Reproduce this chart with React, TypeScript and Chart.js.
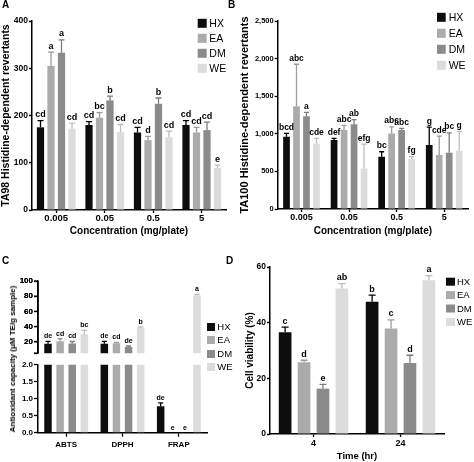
import React, { useEffect, useRef } from 'react';
import { Chart, registerables } from 'chart.js';

Chart.register(...registerables);

const FONT = "'Liberation Sans', Arial, Helvetica, sans-serif";
Chart.defaults.font.family = FONT;
Chart.defaults.color = '#000';

// ---------- shared series ----------
const seriesNames = ['HX', 'EA', 'DM', 'WE'];
const barColors = ['#0d0d0d', '#ababab', '#8b8b8b', '#dcdcdc'];
const errColors = ['#000000', '#9c9c9c', '#7c7c7c', '#bdbdbd'];

// ---------- Panel A: TA98 ----------
const concLabels = ['0.005', '0.05', '0.5', '5'];
const aHX = [175, 180, 164, 180];
const aEA = [305, 195, 148, 164];
const aDM = [333, 232, 225, 169];
const aWE = [172, 165, 154, 89];
const aHXErr = [14, 7, 11, 9];
const aEAErr = [29, 11, 8, 11];
const aDMErr = [27, 9, 12, 17];
const aWEErr = [12, 16, 13, 6];
const aHXSig = ['cd', 'cd', 'cd', 'cd'];
const aEASig = ['a', 'bc', 'd', 'cd'];
const aDMSig = ['a', 'b', 'b', 'cd'];
const aWESig = ['cd', 'cd', 'cd', 'e'];

// ---------- Panel B: TA100 ----------
const bHX = [960, 916, 695, 850];
const bEA = [1367, 1049, 1004, 717];
const bDM = [1235, 1128, 1049, 748];
const bWE = [872, 540, 664, 774];
const bHXErr = [45, 22, 66, 240];
const bEAErr = [558, 62, 89, 252];
const bDMErr = [50, 60, 22, 265];
const bWEErr = [66, 323, 31, 258];
const bHXSig = ['bcd', 'def', 'bc', 'g'];
const bEASig = ['abc', 'abc', 'abc', 'cde'];
const bDMSig = ['a', 'ab', 'abc', 'bc'];
const bWESig = ['cde', 'efg', 'fg', 'g'];

// ---------- Panel C: antioxidant capacity ----------
const assayLabels = ['ABTS', 'DPPH', 'FRAP'];
const cHX = [17.5, 17.4, 0.78];
const cEA = [20.8, 18.2, 0];
const cDM = [17.6, 13.0, 0];
const cWE = [30.0, 38.5, 81.3];
const cHXErr = [3, 3.2, 0.1];
const cEAErr = [3.2, 1, 0];
const cDMErr = [2.8, 1.5, 0];
const cWEErr = [5, 1, 1.2];
const cHXSig = ['de', 'de', 'de'];
const cEASig = ['cd', 'cd', 'e'];
const cDMSig = ['cd', 'de', 'e'];
const cWESig = ['bc', 'b', 'a'];
const cUpperTicks = [5, 20, 40, 60, 80, 100];
const cUpperLabelled = [20, 40, 60, 80, 100];
const cLowerTicks = [0, 0.5, 1, 1.5, 2];

// ---------- Panel D: cell viability ----------
const timeLabels = ['4', '24'];
const dHX = [36.6, 47.5];
const dEA = [25.8, 37.9];
const dDM = [16.3, 25.5];
const dWE = [52.3, 55.2];
const dHXErr = [1.8, 2.4];
const dEAErr = [0.7, 3.1];
const dDMErr = [1.5, 2.8];
const dWEErr = [1.7, 1.7];
const dHXSig = ['c', 'b'];
const dEASig = ['d', 'c'];
const dDMSig = ['e', 'd'];
const dWESig = ['ab', 'a'];

// ---------- plugins ----------
const annotPlugin = {
  id: 'annot',
  afterDatasetsDraw(chart: any, _a: any, opts: any) {
    const ctx = chart.ctx;
    const ys = chart.scales.y;
    const range = opts.range || [-1e12, 1e12];
    ctx.save();
    chart.data.datasets.forEach((ds: any, di: number) => {
      const meta = chart.getDatasetMeta(di);
      meta.data.forEach((bar: any, i: number) => {
        const v = ds.data[i];
        const e = ds.errPlus ? ds.errPlus[i] : 0;
        const top = v + e;
        if (top < range[0] || top > range[1]) return;
        const x = bar.x;
        const yTop = ys.getPixelForValue(top);
        if (e > 0) {
          const yv = ys.getPixelForValue(Math.max(v, ys.min));
          ctx.strokeStyle = ds.errColor;
          ctx.lineWidth = opts.lw;
          ctx.beginPath();
          ctx.moveTo(x, yv);
          ctx.lineTo(x, yTop);
          ctx.moveTo(x - opts.cap / 2, yTop);
          ctx.lineTo(x + opts.cap / 2, yTop);
          ctx.stroke();
        }
        if (ds.sig && ds.sig[i]) {
          ctx.fillStyle = '#000';
          ctx.font = `bold ${opts.font}px ${FONT}`;
          ctx.textAlign = 'center';
          ctx.textBaseline = 'bottom';
          ctx.fillText(ds.sig[i], x, yTop - opts.gap);
        }
      });
    });
    ctx.restore();
  },
};

const boxLegend = {
  id: 'boxLegend',
  afterDraw(chart: any, _a: any, o: any) {
    if (!o || !o.show) return;
    const ctx = chart.ctx;
    ctx.save();
    chart.data.datasets.forEach((ds: any, i: number) => {
      const cy = o.y + i * o.dy;
      ctx.fillStyle = ds.backgroundColor;
      ctx.fillRect(o.x, cy - o.h / 2, o.w, o.h);
      ctx.fillStyle = '#000';
      ctx.font = `${o.font}px ${FONT}`;
      ctx.textAlign = 'left';
      ctx.textBaseline = 'middle';
      ctx.fillText(ds.label, o.tx, cy + 0.5);
    });
    ctx.restore();
  },
};

// draws the y axis of the upper broken-axis segment from the chart's own y scale
const segAxis = {
  id: 'segAxis',
  afterDraw(chart: any, _a: any, o: any) {
    if (!o || !o.show) return;
    const ctx = chart.ctx;
    const ys = chart.scales.y;
    const area = chart.chartArea;
    const x0 = area.left;
    ctx.save();
    ctx.strokeStyle = '#000';
    ctx.lineWidth = 1.5;
    ctx.beginPath();
    ctx.moveTo(x0, area.top);
    ctx.lineTo(x0, area.bottom);
    ctx.stroke();
    ctx.lineWidth = 1.3;
    ctx.fillStyle = '#000';
    ctx.font = `bold ${o.font}px ${FONT}`;
    ctx.textAlign = 'right';
    ctx.textBaseline = 'middle';
    (o.ticks as number[]).forEach((t) => {
      const y = ys.getPixelForValue(t);
      ctx.beginPath();
      ctx.moveTo(x0 - o.tickLen, y);
      ctx.lineTo(x0, y);
      ctx.stroke();
      if ((o.labelled as number[]).indexOf(t) >= 0) {
        ctx.fillText(String(t), x0 - o.tickLen - o.pad, y);
      }
    });
    ctx.restore();
  },
};

function makeDatasets(values: number[][], errs: number[][], sigs: string[][]) {
  return seriesNames.map((name, i) => ({
    label: name,
    data: values[i].slice(),
    errPlus: errs[i],
    sig: sigs[i],
    backgroundColor: barColors[i],
    errColor: errColors[i],
    borderWidth: 0,
  }));
}

function barConfig(o: any) {
  const { W, H, plot } = o;
  const yTitleLH = (o.yTitleFont || 10) * 1.2;
  const xTitleLH = (o.xTitleFont || 10) * 1.2;
  const xHidden = !o.xShow;
  return {
    type: 'bar',
    data: { labels: o.labels, datasets: o.datasets },
    plugins: [annotPlugin, boxLegend, segAxis],
    options: {
      responsive: false,
      animation: false,
      events: [],
      layout: {
        padding: { left: 0, right: W - plot.r, top: plot.t, bottom: 0 },
      },
      datasets: { bar: { barPercentage: o.barPct, categoryPercentage: o.catPct } },
      plugins: {
        legend: { display: false },
        tooltip: { enabled: false },
        annot: { range: o.range, cap: o.cap, font: o.letterFont, lw: o.lw || 1.3, gap: 1.5 },
        boxLegend: o.legend || { show: false },
        segAxis: o.segAxis || { show: false },
      },
      scales: {
        x: {
          offset: true,
          grid: {
            display: !xHidden, drawOnChartArea: false, drawTicks: !xHidden, offset: false,
            tickLength: o.tickLen, tickWidth: 1.3, tickColor: '#000',
          },
          border: { display: !xHidden, color: '#000', width: 1.5 },
          ticks: {
            display: !xHidden,
            font: { size: o.xTickFont, weight: 'bold' }, color: '#000',
            padding: o.xTickPad, maxRotation: 0, autoSkip: false,
          },
          title: o.xTitle
            ? {
                display: true, text: o.xTitle, color: '#000',
                font: { size: o.xTitleFont, weight: 'bold' },
                padding: { top: 0, bottom: H - xTitleLH / 2 - o.xTitleY },
              }
            : { display: false },
          afterFit: (s: any) => { s.height = H - plot.b; },
        },
        y: {
          min: o.yMin,
          max: o.yMax,
          grid: {
            drawOnChartArea: false,
            tickLength: o.tickLen, tickWidth: 1.3, tickColor: '#000',
          },
          border: { display: true, color: '#000', width: 1.5 },
          ticks: {
            ...(o.yStep ? { stepSize: o.yStep } : {}),
            autoSkip: false,
            font: { size: o.yTickFont, weight: 'bold' }, color: '#000', padding: 1,
            callback: o.yFmt || ((v: any) => String(v)),
          },
          ...(o.yTicks
            ? { afterBuildTicks: (s: any) => { s.ticks = o.yTicks.map((v: number) => ({ value: v })); } }
            : {}),
          title: o.yTitle
            ? {
                display: true, text: o.yTitle, color: '#000',
                font: { size: o.yTitleFont, weight: 'bold' },
                padding: { top: Math.max(0, o.yTitleX - yTitleLH / 2), bottom: 0 },
              }
            : { display: false },
          afterFit: (s: any) => { s.width = plot.l; },
        },
      },
    },
  };
}

type Spec = { key: string; left: number; top: number; W: number; H: number; make: () => any };

const specs: Spec[] = [
  {
    key: 'A', left: 0, top: 0, W: 237, H: 244,
    make: () => barConfig({
      W: 237, H: 244, plot: { l: 32, t: 21, r: 226, b: 210 },
      labels: concLabels,
      datasets: makeDatasets([aHX, aEA, aDM, aWE], [aHXErr, aEAErr, aDMErr, aWEErr], [aHXSig, aEASig, aDMSig, aWESig]),
      barPct: 0.69, catPct: 0.866,
      yMin: 0, yMax: 400, yStep: 100, yTickFont: 8.5, xTickFont: 9.5, xShow: true, xTickPad: 0, tickLen: 3,
      yTitle: 'TA98 Histidine-dependent revertants', yTitleFont: 10.5, yTitleX: 5.5,
      xTitle: 'Concentration (mg/plate)', xTitleFont: 10, xTitleY: 231.5,
      letterFont: 9, cap: 6,
      legend: { show: true, x: 197.7, w: 9, h: 9, tx: 209.3, y: 23.3, dy: 15, font: 10.5 },
    }),
  },
  {
    key: 'B', left: 237, top: 0, W: 237, H: 244,
    make: () => barConfig({
      W: 237, H: 244, plot: { l: 40.7, t: 21, r: 231, b: 209 },
      labels: concLabels,
      datasets: makeDatasets([bHX, bEA, bDM, bWE], [bHXErr, bEAErr, bDMErr, bWEErr], [bHXSig, bEASig, bDMSig, bWESig]),
      barPct: 0.67, catPct: 0.84,
      yMin: 0, yMax: 2500, yStep: 500, yTickFont: 7.5, xTickFont: 9, xShow: true, xTickPad: 0, tickLen: 3,
      yFmt: (v: any) => Number(v).toLocaleString('en-US'),
      yTitle: 'TA100 Histidine-dependent revertants', yTitleFont: 11, yTitleX: 7.5,
      xTitle: 'Concentration (mg/plate)', xTitleFont: 10, xTitleY: 231.5,
      letterFont: 8.5, cap: 5,
      legend: { show: true, x: 200, w: 8.7, h: 9, tx: 211.7, y: 17.3, dy: 16, font: 10.5 },
    }),
  },
  {
    // upper segment of the broken axis (abs y 231..359)
    key: 'C1', left: 0, top: 231, W: 237, H: 128,
    make: () => barConfig({
      W: 237, H: 128, plot: { l: 38, t: 50, r: 207, b: 124 },
      labels: assayLabels,
      datasets: makeDatasets([cHX, cEA, cDM, cWE], [cHXErr, cEAErr, cDMErr, cWEErr], [cHXSig, cEASig, cDMSig, cWESig]),
      barPct: 0.62, catPct: 0.86,
      yMin: 5, yMax: 100, yTicks: cUpperTicks, yFmt: (v: any) => (Number(v) === 5 ? '' : String(v)),
      yTickFont: 8, xTickFont: 8, xShow: false, xTickPad: 0, tickLen: 4,
      letterFont: 7, cap: 5, range: [5, 1000],
      segAxis: { show: true, ticks: cUpperTicks, labelled: cUpperLabelled, font: 8, tickLen: 4, pad: 1 },
    }),
  },
  {
    // lower segment of the broken axis (abs y 359..462)
    key: 'C2', left: 0, top: 359, W: 237, H: 103,
    make: () => barConfig({
      W: 237, H: 103, plot: { l: 38, t: 5, r: 207, b: 73.7 },
      labels: assayLabels,
      datasets: makeDatasets([cHX, cEA, cDM, cWE], [cHXErr, cEAErr, cDMErr, cWEErr], [cHXSig, cEASig, cDMSig, cWESig]),
      barPct: 0.62, catPct: 0.86,
      yMin: 0, yMax: 2, yTicks: cLowerTicks, yFmt: (v: any) => Number(v).toFixed(1),
      yTickFont: 8, xTickFont: 8, xShow: true, xTickPad: 3.5, tickLen: 4,
      letterFont: 7, cap: 5, range: [-1, 2],
    }),
  },
  {
    key: 'D', left: 237, top: 231, W: 237, H: 231,
    make: () => barConfig({
      W: 237, H: 231, plot: { l: 33, t: 36, r: 207, b: 203 },
      labels: timeLabels,
      datasets: makeDatasets([dHX, dEA, dDM, dWE], [dHXErr, dEAErr, dDMErr, dWEErr], [dHXSig, dEASig, dDMSig, dWESig]),
      barPct: 0.67, catPct: 0.87,
      yMin: 0, yMax: 60, yStep: 20, yTickFont: 8.5, xTickFont: 9, xShow: true, xTickPad: 1, tickLen: 3,
      yTitle: 'Cell viability (%)', yTitleFont: 10, yTitleX: 13.3,
      xTitle: 'Time (hr)', xTitleFont: 9.5, xTitleY: 225,
      letterFont: 9, cap: 7,
      legend: { show: true, x: 209, w: 9, h: 8, tx: 220, y: 50.7, dy: 13.4, font: 9.5 },
    }),
  },
];

function ChartCanvas({ spec }: { spec: Spec }) {
  const ref = useRef<HTMLCanvasElement>(null);
  useEffect(() => {
    if (!ref.current) return;
    const chart = new Chart(ref.current, spec.make());
    return () => chart.destroy();
  }, [spec]);
  return (
    <canvas
      ref={ref}
      width={spec.W}
      height={spec.H}
      style={{ position: 'absolute', left: spec.left, top: spec.top, width: spec.W, height: spec.H, display: 'block' }}
    />
  );
}

const panelLetters = [
  { t: 'A', x: 2, y: 0 },
  { t: 'B', x: 228, y: 0 },
  { t: 'C', x: 2, y: 255.7 },
  { t: 'D', x: 226, y: 255.7 },
];

// legend of panel C (outside the plot, spanning both axis segments)
const cLegend = { x: 207.3, w: 8, h: 8, tx: 217.3, y: 326.7, dy: 13.4, font: 9.5 };

export default function App() {
  return (
    <div
      style={{
        position: 'absolute', left: 0, top: 0, width: 474, height: 462,
        overflow: 'hidden', background: '#fff', fontFamily: FONT,
      }}
    >
      {specs.map((s) => (
        <ChartCanvas key={s.key} spec={s} />
      ))}
      {seriesNames.map((name, i) => {
        const cy = cLegend.y + i * cLegend.dy;
        return (
          <React.Fragment key={name}>
            <div
              style={{
                position: 'absolute', left: cLegend.x, top: cy - cLegend.h / 2,
                width: cLegend.w, height: cLegend.h, background: barColors[i],
              }}
            />
            <div
              style={{
                position: 'absolute', left: cLegend.tx, top: cy - 6, height: 12, lineHeight: '12px',
                fontSize: cLegend.font, color: '#000', whiteSpace: 'nowrap',
              }}
            >
              {name}
            </div>
          </React.Fragment>
        );
      })}
      {panelLetters.map((p) => (
        <div
          key={p.t}
          style={{
            position: 'absolute', left: p.x, top: p.y, fontSize: 10, lineHeight: '10px',
            fontWeight: 'bold', color: '#000',
          }}
        >
          {p.t}
        </div>
      ))}
      <div
        style={{
          position: 'absolute', left: 13.3, top: 359, fontSize: 8, fontWeight: 'bold',
          whiteSpace: 'nowrap', transform: 'translate(-50%, -50%) rotate(-90deg)', lineHeight: '10px',
          color: '#000',
        }}
      >
        Antioxidant capacity (μM TE/g sample)
      </div>
    </div>
  );
}
